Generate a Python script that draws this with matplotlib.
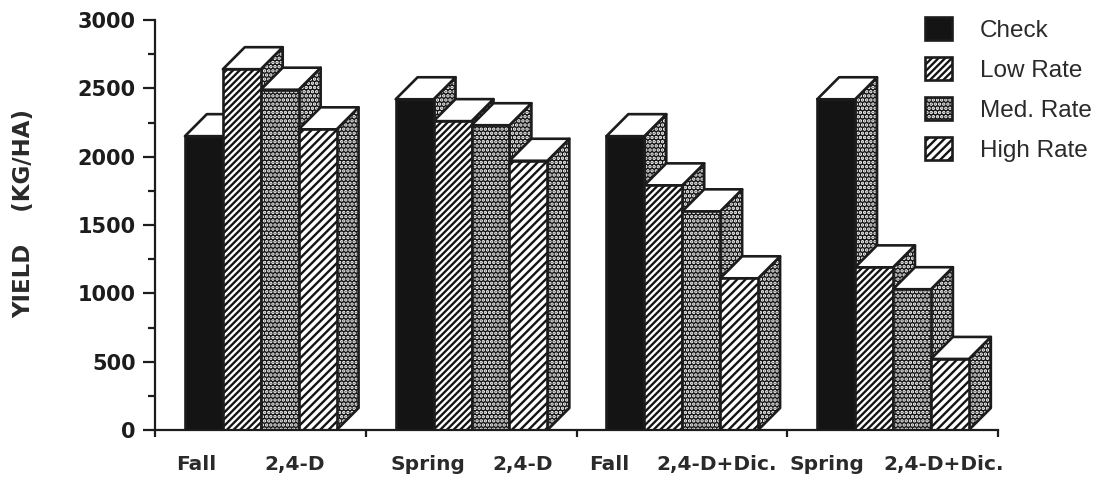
import matplotlib
matplotlib.use("Agg")
import matplotlib.pyplot as plt
from matplotlib.legend_handler import HandlerPatch
from matplotlib.patches import Patch, Polygon, Rectangle
from matplotlib.ticker import MultipleLocator
from matplotlib.transforms import blended_transform_factory

plt.rcParams['font.family'] = ['DejaVu Sans']
plt.rcParams['hatch.linewidth'] = 1.7

series = ["Check", "Low Rate", "Med. Rate", "High Rate"]
check = [2150, 2420, 2150, 2420]
low_rate = [2640, 2260, 1790, 1190]
med_rate = [2490, 2230, 1600, 1030]
high_rate = [2200, 1970, 1110, 520]
timing = ["Fall", "Spring", "Fall", "Spring"]
herbicide = ["2,4-D", "2,4-D", "2,4-D+Dic.", "2,4-D+Dic."]
yticks = [0, 500, 1000, 1500, 2000, 2500, 3000]

INK = "#1c1c1c"
TXT = "#2a2a2a"
W, H = 1101, 480
fig = plt.figure(figsize=(W / 100, H / 100), dpi=100, facecolor="white")
ax = fig.add_axes([155 / W, 50 / H, 843 / W, 410 / H])
ax.set_xlim(0, 4)
ax.set_ylim(0, 3000)

bar_w = 0.18
offset = 0.142
depth_x = 0.104
depth_y = 161
lw = 1.9

STYLES = [
    dict(facecolor="#141414", edgecolor="#141414", hatch=None),
    dict(facecolor="#141414", edgecolor="white", hatch="/////"),
    dict(facecolor="#141414", edgecolor="white", hatch="...."),
    dict(facecolor="white", edgecolor="#141414", hatch="////"),
]
SIDE = STYLES[2]


def outlined(verts, style, z):
    ax.add_patch(Polygon(verts, closed=True, lw=0, zorder=z, **style))
    ax.add_patch(Polygon(verts, closed=True, fill=False, edgecolor=INK, lw=lw,
                         zorder=z + 0.5, joinstyle="round"))


values = [check, low_rate, med_rate, high_rate]
for g in range(4):
    for i in range(4):
        v = values[i][g]
        x = g + offset + i * bar_w
        base = 2 + i * 4
        outlined([(x + bar_w, 0), (x + bar_w + depth_x, depth_y),
                  (x + bar_w + depth_x, v + depth_y), (x + bar_w, v)], SIDE, base)
        ax.add_patch(Polygon([(x, v), (x + depth_x, v + depth_y),
                              (x + bar_w + depth_x, v + depth_y), (x + bar_w, v)],
                             closed=True, facecolor="white", edgecolor=INK, lw=lw,
                             zorder=base + 1, joinstyle="round"))
        ax.bar(x, v, width=bar_w, align="edge", linewidth=0, zorder=base + 2, **STYLES[i])
        ax.bar(x, v, width=bar_w, align="edge", fill=False, edgecolor=INK, linewidth=lw,
               zorder=base + 2.5)

for s in ("top", "right"):
    ax.spines[s].set_visible(False)
for s in ("left", "bottom"):
    ax.spines[s].set_linewidth(1.6)
    ax.spines[s].set_color(INK)
    ax.spines[s].set_zorder(40)

ax.set_yticks(yticks)
ax.yaxis.set_minor_locator(MultipleLocator(250))
ax.tick_params(axis="y", which="major", length=9, width=1.6, color=INK, pad=5,
               labelsize=15, labelcolor=INK)
ax.tick_params(axis="y", which="minor", length=5, width=1.6, color=INK)
for t in ax.get_yticklabels():
    t.set_fontweight("bold")
ax.set_xticks([0, 1, 2, 3, 4])
ax.set_xticklabels([])
ax.tick_params(axis="x", length=5, width=1.6, color=INK)

tr = blended_transform_factory(ax.transData, ax.transAxes)
t_x = [0.10, 1.118, 2.06, 3.013]
h_x = [0.517, 1.60, 2.38, 3.455]
for g in range(4):
    ax.text(t_x[g], -0.084, timing[g], transform=tr, ha="left", va="center",
            fontsize=14.5, fontweight="bold", color=TXT, clip_on=False)
    ax.text(h_x[g], -0.084, herbicide[g], transform=tr, ha="left", va="center",
            fontsize=14.5, fontweight="bold", color=TXT, clip_on=False)

fig.text(24 / W, 1 - 214 / H, "YIELD    (KG/HA)", rotation=90, ha="center", va="center",
         fontsize=16.5, fontweight="bold", color=TXT)


class Swatch(HandlerPatch):
    def create_artists(self, legend, orig, xd, yd, width, height, fontsize, trans):
        fillr = Rectangle((-xd, -yd), width, height, transform=trans, lw=0,
                          facecolor=orig.get_facecolor(), edgecolor=orig.get_edgecolor(),
                          hatch=orig.get_hatch())
        edge = Rectangle((-xd, -yd), width, height, transform=trans, fill=False,
                         edgecolor=INK, lw=lw)
        return [fillr, edge]


handles = [Patch(**st) for st in STYLES]
fig.legend(handles, series, loc="upper left", bbox_to_anchor=(913 / W, 1 - 5 / H),
           frameon=False, handlelength=1.1, handleheight=1.1,
           prop={"family": "Liberation Sans", "size": 17.5},
           handletextpad=1.15, labelspacing=0.62, labelcolor=TXT, borderpad=0,
           handler_map={Patch: Swatch()})

fig.savefig("out.png", dpi=100, facecolor="white")
